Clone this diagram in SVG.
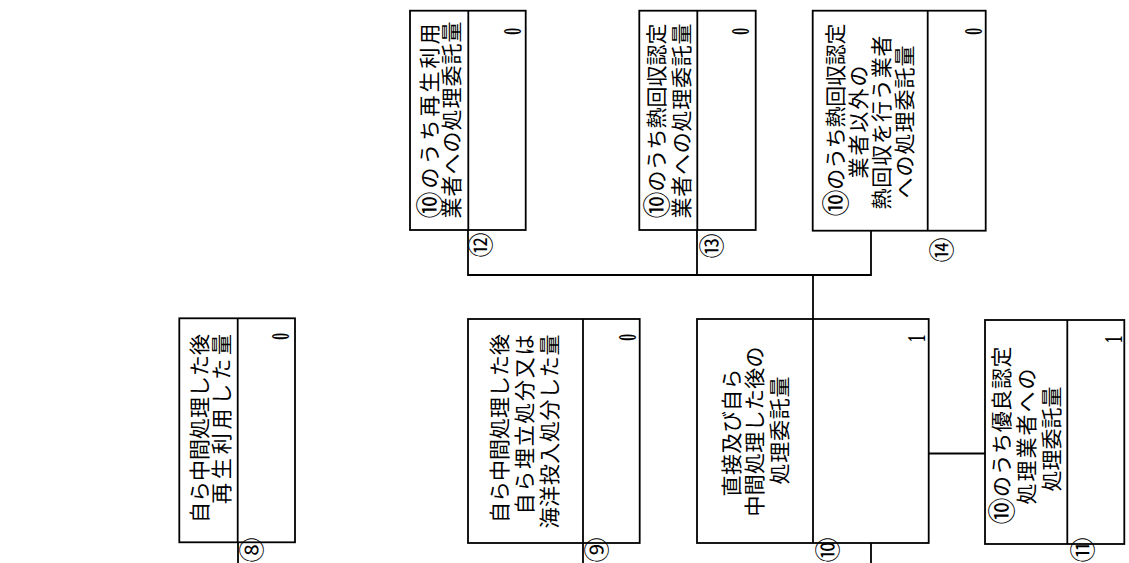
<svg xmlns="http://www.w3.org/2000/svg" width="1129" height="563" viewBox="0 0 1129 563">
<style>
.box{fill:#fff;stroke:#000;stroke-width:1.8}
.ln{fill:none;stroke:#000;stroke-width:1.8}
.lb{font-family:"Noto Sans CJK JP","Noto Sans CJK SC",sans-serif;font-size:21px;fill:#000;dominant-baseline:central}
.c10{font-size:27px}
.num{font-family:"Liberation Serif",serif;font-size:25px;font-weight:bold;fill:#000;text-anchor:end}
.cn{font-family:"Noto Sans CJK JP",sans-serif;font-size:25px;fill:#000;text-anchor:middle;dominant-baseline:central}
</style>
<rect width="1129" height="563" fill="#fff"/>
<g id="connectors">
<path class="ln" d="M238,542 V563"/>
<path class="ln" d="M583,543 V563"/>
<path class="ln" d="M871,543 V563"/>
<path class="ln" d="M928.7,453.5 H985"/>
<path class="ln" d="M468,230 V275 H871 V230.7"/>
<path class="ln" d="M697,230 V275"/>
<path class="ln" d="M813,275 V319"/>
</g>
<g id="node8">
<rect class="box" x="179.3" y="318.3" width="115.7" height="224"/>
<path class="ln" d="M237.7,318.3 V542.3"/>
<text class="lb" transform="translate(198,523) rotate(-90)" textLength="189" lengthAdjust="spacing">自ら中間処理した後</text>
<text class="lb" transform="translate(220,504) rotate(-90)" textLength="170" lengthAdjust="spacing">再生利用した量</text>
<text class="num" transform="translate(289,333) rotate(-90) scale(0.55,1)">0</text>
<text class="cn" transform="translate(250,550) rotate(-90)">⑧</text>
</g>
<g id="node9">
<rect class="box" x="468" y="319" width="171.7" height="224"/>
<path class="ln" d="M583,319 V543"/>
<text class="lb" transform="translate(498,523) rotate(-90)" textLength="189" lengthAdjust="spacing">自ら中間処理した後</text>
<text class="lb" transform="translate(523,514.5) rotate(-90)" textLength="180" lengthAdjust="spacing">自ら埋立処分又は</text>
<text class="lb" transform="translate(548,528.5) rotate(-90)" textLength="194" lengthAdjust="spacing">海洋投入処分した量</text>
<text class="num" transform="translate(636,334) rotate(-90) scale(0.55,1)">0</text>
<text class="cn" transform="translate(595,550) rotate(-90)">⑨</text>
</g>
<g id="node10">
<rect class="box" x="697" y="319" width="231.7" height="224"/>
<path class="ln" d="M813,319 V543"/>
<text class="lb" transform="translate(730,496.5) rotate(-90)" textLength="128" lengthAdjust="spacing">直接及び自ら</text>
<text class="lb" transform="translate(753,516.5) rotate(-90)" textLength="170" lengthAdjust="spacing">中間処理した後の</text>
<text class="lb" transform="translate(778,484.5) rotate(-90)" textLength="108" lengthAdjust="spacing">処理委託量</text>
<text class="num" transform="translate(925,335) rotate(-90) scale(0.55,1)">1</text>
<text class="cn" transform="translate(826,550) rotate(-90)">⑩</text>
</g>
<g id="node11">
<rect class="box" x="985" y="320" width="139.3" height="224"/>
<path class="ln" d="M1067.3,320 V544"/>
<text class="lb" transform="translate(1000,524.5) rotate(-90)" textLength="178" lengthAdjust="spacing"><tspan class="c10">⑩</tspan>のうち優良認定</text>
<text class="lb" transform="translate(1025,504.5) rotate(-90)" textLength="136" lengthAdjust="spacing">処理業者への</text>
<text class="lb" transform="translate(1050,491.5) rotate(-90)" textLength="105" lengthAdjust="spacing">処理委託量</text>
<text class="num" transform="translate(1122,336) rotate(-90) scale(0.55,1)">1</text>
<text class="cn" transform="translate(1081,550) rotate(-90)">⑪</text>
</g>
<g id="node12">
<rect class="box" x="410" y="10.7" width="115.7" height="219.3"/>
<path class="ln" d="M468.3,10.7 V230"/>
<text class="lb" transform="translate(428,218.5) rotate(-90)" textLength="195" lengthAdjust="spacing"><tspan class="c10">⑩</tspan>のうち再生利用</text>
<text class="lb" transform="translate(450,218.5) rotate(-90)" textLength="197" lengthAdjust="spacing">業者への処理委託量</text>
<text class="num" transform="translate(521,28) rotate(-90) scale(0.55,1)">0</text>
<text class="cn" transform="translate(479,245) rotate(-90)">⑫</text>
</g>
<g id="node13">
<rect class="box" x="639.3" y="10.7" width="116.4" height="219.3"/>
<path class="ln" d="M697.3,10.7 V230"/>
<text class="lb" transform="translate(655,218.5) rotate(-90)" textLength="195" lengthAdjust="spacing"><tspan class="c10">⑩</tspan>のうち熱回収認定</text>
<text class="lb" transform="translate(680,218.5) rotate(-90)" textLength="195" lengthAdjust="spacing">業者への処理委託量</text>
<text class="num" transform="translate(749,28) rotate(-90) scale(0.55,1)">0</text>
<text class="cn" transform="translate(710,246) rotate(-90)">⑬</text>
</g>
<g id="node14">
<rect class="box" x="812.7" y="10.7" width="173" height="220"/>
<path class="ln" d="M927.7,10.7 V230.7"/>
<text class="lb" transform="translate(834,216.5) rotate(-90)" textLength="193" lengthAdjust="spacing"><tspan class="c10">⑩</tspan>のうち熱回収認定</text>
<text class="lb" transform="translate(857,178.5) rotate(-90)" textLength="113" lengthAdjust="spacing">業者以外の</text>
<text class="lb" transform="translate(880,209.5) rotate(-90)" textLength="174" lengthAdjust="spacing">熱回収を行う業者</text>
<text class="lb" transform="translate(903,198.5) rotate(-90)" textLength="153" lengthAdjust="spacing">への処理委託量</text>
<text class="num" transform="translate(982,28) rotate(-90) scale(0.55,1)">0</text>
<text class="cn" transform="translate(940,250) rotate(-90)">⑭</text>
</g>
</svg>
